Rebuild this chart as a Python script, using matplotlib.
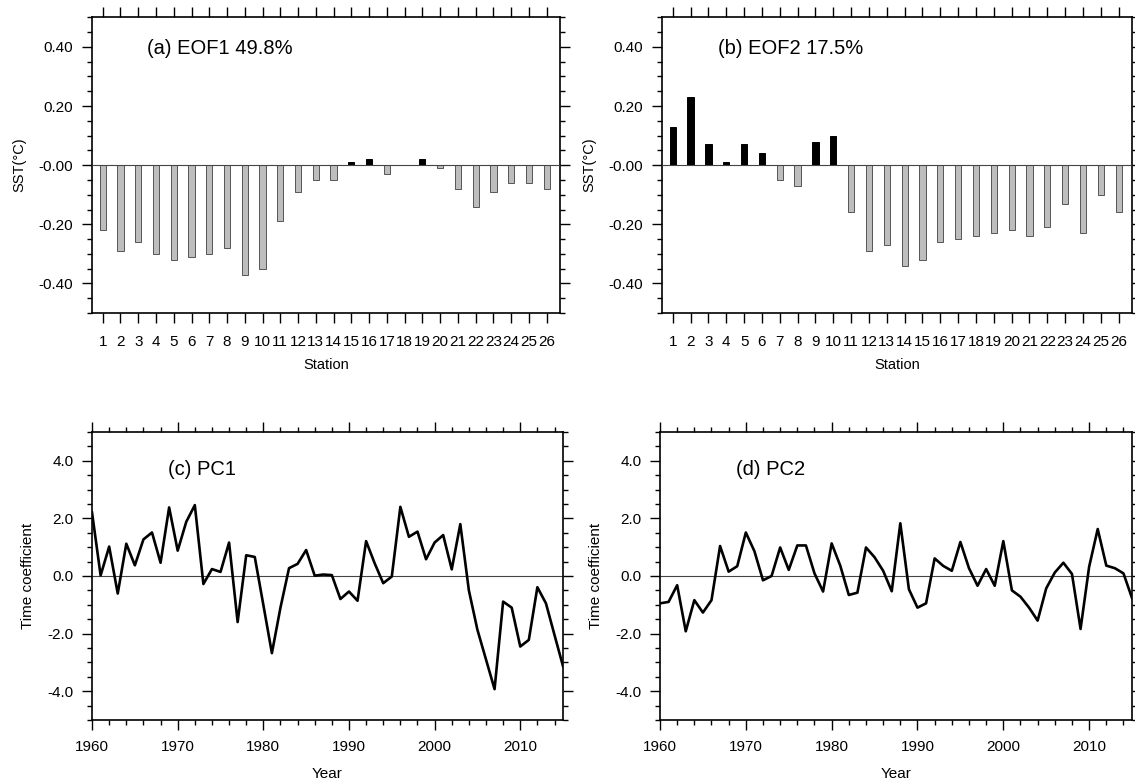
import numpy as np
import matplotlib
matplotlib.use("Agg")
import matplotlib.pyplot as plt
from matplotlib.ticker import MultipleLocator, FixedLocator

plt.rcParams['font.family'] = ['Liberation Sans', 'DejaVu Sans']

# ---------- DATA ----------
stations = np.arange(1, 27)
eof1 = [-0.22, -0.29, -0.26, -0.30, -0.32, -0.31, -0.30, -0.28, -0.37, -0.35,
        -0.19, -0.09, -0.05, -0.05, 0.01, 0.02, -0.03, 0.00, 0.02, -0.01,
        -0.08, -0.14, -0.09, -0.06, -0.06, -0.08]
eof2 = [0.13, 0.23, 0.07, 0.01, 0.07, 0.04, -0.05, -0.07, 0.08, 0.10,
        -0.16, -0.29, -0.27, -0.34, -0.32, -0.26, -0.25, -0.24, -0.23, -0.22,
        -0.24, -0.21, -0.13, -0.23, -0.10, -0.16]
eof_ticks = [0.4, 0.2, 0.0, -0.2, -0.4]
eof_ticklabels = ["0.40", "0.20", "-0.00", "-0.20", "-0.40"]

years = np.arange(1960, 2016)
pc1 = [2.2, 0.02, 1.02, -0.61, 1.12, 0.37, 1.27, 1.51, 0.46, 2.38,
       0.88, 1.88, 2.46, -0.28, 0.24, 0.14, 1.16, -1.60, 0.72, 0.66,
       -1.0, -2.68, -1.1, 0.27, 0.42, 0.90, 0.01, 0.05, 0.03, -0.80,
       -0.54, -0.86, 1.21, 0.44, -0.25, -0.02, 2.40, 1.36, 1.54, 0.58,
       1.16, 1.42, 0.23, 1.80, -0.5, -1.87, -2.9, -3.93, -0.89, -1.10,
       -2.45, -2.22, -0.39, -0.95, -2.05, -3.14]
pc2 = [-0.95, -0.90, -0.32, -1.92, -0.84, -1.27, -0.84, 1.04, 0.15, 0.34,
       1.51, 0.86, -0.15, 0.00, 0.99, 0.21, 1.06, 1.06, 0.09, -0.54,
       1.13, 0.36, -0.66, -0.58, 0.99, 0.65, 0.18, -0.53, 1.83, -0.46,
       -1.10, -0.95, 0.61, 0.35, 0.18, 1.18, 0.27, -0.34, 0.24, -0.34,
       1.21, -0.50, -0.72, -1.10, -1.55, -0.43, 0.12, 0.46, 0.07, -1.84,
       0.32, 1.63, 0.36, 0.27, 0.09, -0.77]
pc_ticks = [4.0, 2.0, 0.0, -2.0, -4.0]
pc_ticklabels = ["4.0", "2.0", "0.0", "-2.0", "-4.0"]

titles = ["(a) EOF1 49.8%", "(b) EOF2 17.5%", "(c) PC1", "(d) PC2"]


def style_axes(ax):
    # ticks pointing outward on every side
    for s in ax.spines.values():
        s.set_linewidth(1.2)
    ax.tick_params(which='both', direction='out', top=True, right=True,
                   width=1.0, labelsize=11)
    ax.tick_params(axis='y', which='major', length=7.5, pad=6)
    ax.tick_params(axis='y', which='minor', length=3.5)


def eof_panel(ax, values, title):
    colors = ['black' if v > 0 else '#bdbdbd' for v in values]
    edges = ['black' if v > 0 else '#555555' for v in values]
    ax.bar(stations, values, width=0.35, color=colors, edgecolor=edges,
           linewidth=0.7, zorder=2)
    ax.axhline(0, color='#444444', linewidth=0.8, zorder=3)
    ax.set_xlim(0.4, 26.75)
    ax.set_ylim(-0.5, 0.5)
    ax.set_xticks(stations)
    ax.set_xticklabels([str(s) for s in stations])
    ax.yaxis.set_major_locator(FixedLocator(eof_ticks))
    ax.set_yticklabels(eof_ticklabels)
    ax.yaxis.set_minor_locator(MultipleLocator(0.05))
    style_axes(ax)
    ax.tick_params(axis='x', which='major', length=7.5, pad=8)
    ax.set_xlabel("Station", fontsize=10.5, labelpad=7)
    ax.set_ylabel("SST(°C)", fontsize=10.5, labelpad=9)
    ax.text(0.118, 0.896, title, transform=ax.transAxes, fontsize=14.5,
            va='center', ha='left')


def pc_panel(ax, values, title):
    ax.plot(years, values, color='black', linewidth=1.9, zorder=3)
    ax.axhline(0, color='#444444', linewidth=0.8, zorder=2)
    ax.set_xlim(1960, 2015)
    ax.set_ylim(-5, 5)
    ax.xaxis.set_major_locator(MultipleLocator(10))
    ax.xaxis.set_minor_locator(MultipleLocator(2))
    ax.yaxis.set_major_locator(FixedLocator(pc_ticks))
    ax.set_yticklabels(pc_ticklabels)
    ax.yaxis.set_minor_locator(MultipleLocator(0.5))
    style_axes(ax)
    ax.tick_params(axis='x', which='major', length=7.5, pad=7)
    ax.tick_params(axis='x', which='minor', length=3.5)
    ax.set_xlabel("Year", fontsize=11, labelpad=9)
    ax.set_ylabel("Time coefficient", fontsize=11, labelpad=9)
    ax.text(0.161, 0.868, title, transform=ax.transAxes, fontsize=14.5,
            va='center', ha='left')


fig = plt.figure(figsize=(11.35, 7.83), dpi=100)
ax_a = fig.add_axes([0.0811, 0.6002, 0.4123, 0.3777])
ax_b = fig.add_axes([0.5833, 0.6002, 0.4141, 0.3777])
ax_c = fig.add_axes([0.0811, 0.0805, 0.4150, 0.3678])
ax_d = fig.add_axes([0.5815, 0.0805, 0.4159, 0.3678])

eof_panel(ax_a, eof1, titles[0])
eof_panel(ax_b, eof2, titles[1])
pc_panel(ax_c, pc1, titles[2])
pc_panel(ax_d, pc2, titles[3])

fig.savefig("out.png", dpi=100)
